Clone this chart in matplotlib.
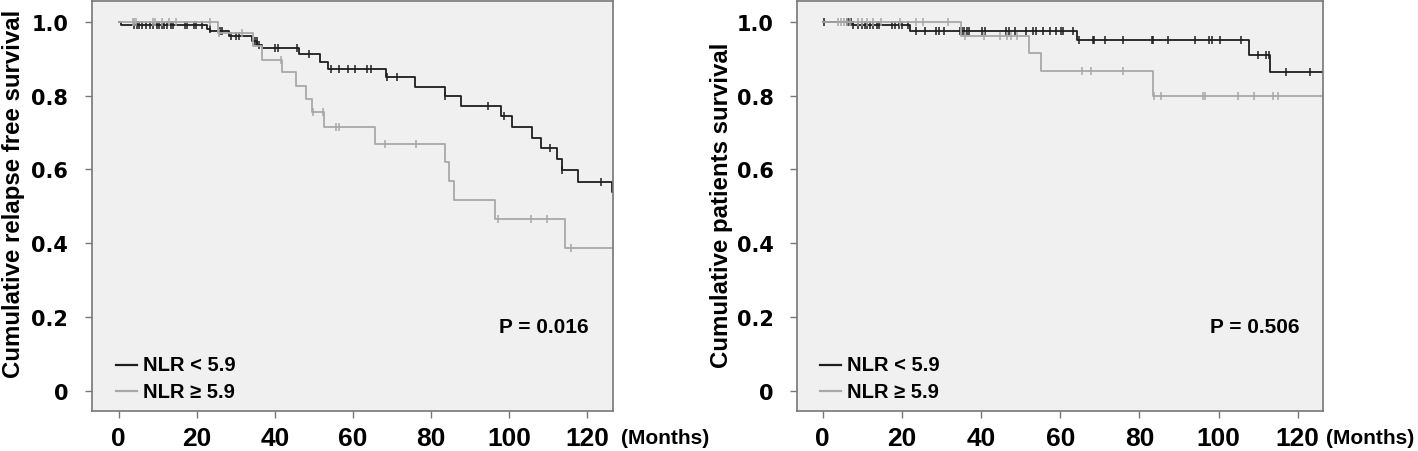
import numpy as np
import matplotlib.pyplot as plt

plt.rcParams['font.family'] = ['Liberation Sans', 'DejaVu Sans']
plt.rcParams['font.weight'] = 'bold'

# relapse free survival, NLR < 5.9
rfs_low_t = [0, 0.5, 22.5, 23.5, 28.2, 34.1, 35.5, 36.7, 46.3, 51.6, 53.7, 68.6, 75.9,
             83.5, 87.7, 98.0, 100.8, 106.0, 108.2, 112.3, 113.5, 117.7, 126.4]
rfs_low_s = [1.0, 0.992, 0.981, 0.975, 0.962, 0.947, 0.938, 0.929, 0.912, 0.891, 0.872,
             0.850, 0.822, 0.798, 0.772, 0.745, 0.716, 0.686, 0.658, 0.629, 0.598, 0.567, 0.538]
rfs_low_c = [3.9, 4.6, 5.3, 6.1, 7.0, 7.9, 8.7, 9.7, 10.4, 11.1, 11.7, 12.5, 13.4, 14.0,
             17.1, 17.6, 19.2, 19.9, 21.4, 23.3, 26.0, 26.5, 28.9, 30.1, 30.7, 35.0, 35.4,
             36.0, 40.1, 40.8, 45.6, 48.8, 54.3, 56.5, 58.8, 60.5, 63.5, 64.6, 68.8, 71.4,
             83.5, 94.5, 98.8, 110.5, 113.5, 123.5]

# relapse free survival, NLR >= 5.9
rfs_high_t = [0, 25.4, 34.5, 36.7, 41.8, 45.4, 48.0, 49.6, 52.6, 65.7, 83.7, 84.6, 86.0, 96.5, 114.3]
rfs_high_s = [1.0, 0.969, 0.934, 0.897, 0.863, 0.826, 0.791, 0.755, 0.714, 0.670, 0.620,
              0.568, 0.516, 0.465, 0.388]
rfs_high_c = [3.6, 4.0, 4.4, 8.8, 9.4, 11.2, 12.8, 14.6, 23.5, 25.8, 31.6, 41.5, 49.9, 52.3,
              55.7, 56.5, 68.1, 76.2, 97.1, 105.6, 109.6, 115.8]

# patients survival, NLR < 5.9
os_low_t = [0, 7.7, 22.0, 64.2, 107.7, 113.1]
os_low_s = [1.0, 0.992, 0.975, 0.950, 0.911, 0.865]
os_low_c = [0.3, 6.0, 6.6, 7.1, 7.7, 9.0, 9.8, 10.6, 11.2, 11.9, 12.7, 13.6, 14.2, 17.4, 18.2,
            19.3, 19.9, 21.6, 23.5, 25.8, 28.5, 29.4, 30.6, 34.6, 35.2, 35.8, 36.4, 36.9,
            40.3, 40.9, 46.4, 47.0, 48.5, 51.4, 53.1, 53.9, 55.6, 57.3, 59.0, 60.1, 60.6,
            63.3, 64.7, 68.2, 68.6, 71.2, 75.8, 83.2, 83.5, 87.3, 94.1, 97.5, 98.3, 100.3,
            105.6, 110.1, 111.9, 112.7, 117.0, 123.0]

# patients survival, NLR >= 5.9
os_high_t = [0, 35.0, 52.2, 55.2, 83.5]
os_high_s = [1.0, 0.961, 0.915, 0.866, 0.799]
os_high_c = [3.8, 4.5, 5.3, 6.0, 6.8, 8.9, 10.0, 11.1, 12.6, 14.8, 19.5, 23.5, 25.3, 31.6,
             36.0, 40.8, 44.7, 46.5, 47.6, 49.0, 65.5, 67.8, 75.9, 83.7, 85.4, 96.1, 96.6,
             105.0, 109.0, 113.7, 115.1]

labels = ['NLR < 5.9', 'NLR \u2265 5.9']
p_values = ['P = 0.016', 'P = 0.506']
ylabels = ['Cumulative relapse free survival', 'Cumulative patients survival']
colors = ['#1e1e1e', '#a8a8a8']
end_time = 135


def km(ax, t, s, c, color):
    t = list(t) + [end_time]
    s = list(s) + [s[-1]]
    ax.step(t, s, where='post', color=color, lw=1.3)
    idx = np.searchsorted(t, c, side='right') - 1
    ax.plot(c, np.array(s)[idx], ls='none', marker='|', ms=6, mew=1.1, color=color)


fig = plt.figure(figsize=(14.18, 4.52), dpi=100)
ax1 = fig.add_axes([0.0647, 0.0885, 0.3678, 0.9071])
ax2 = fig.add_axes([0.5621, 0.0885, 0.3709, 0.9071])

panels = [(ax1, [(rfs_low_t, rfs_low_s, rfs_low_c), (rfs_high_t, rfs_high_s, rfs_high_c)],
           -6.9, 126.7, (-0.128, 0.533), 128.7),
          (ax2, [(os_low_t, os_low_s, os_low_c), (os_high_t, os_high_s, os_high_c)],
           -6.5, 126.4, (-0.121, 0.505), 127.1)]

for i, (ax, series, x0, x1, ylab_xy, months_x) in enumerate(panels):
    ax.set_facecolor('#f0f0f0')
    for (t, s, c), col in zip(series, colors):
        km(ax, t, s, c, col)
    ax.set_xlim(x0, x1)
    ax.set_ylim(-0.054, 1.056)
    ax.set_xticks(range(0, 121, 20))
    ax.set_yticks([0, 0.2, 0.4, 0.6, 0.8, 1.0])
    ax.set_yticklabels(['0', '0.2', '0.4', '0.6', '0.8', '1.0'])
    for sp in ax.spines.values():
        sp.set_color('#777777')
        sp.set_linewidth(1.2)
    ax.tick_params(axis='both', direction='out', length=5, width=1, color='#777777')
    ax.tick_params(axis='y', pad=12)
    ax.tick_params(axis='x', pad=6, labelsize=19)
    for lab in ax.get_yticklabels():
        lab.set_family('DejaVu Sans')
        lab.set_fontsize(15)
        lab.set_fontweight('bold')
    ax.set_ylabel(ylabels[i], fontsize=17.3, fontweight='bold')
    ax.yaxis.set_label_coords(*ylab_xy)
    ax.text(120.5, 0.175, p_values[i], ha='right', va='center', fontsize=15, fontweight='bold')
    ax.text(months_x, -0.065, '(Months)', transform=ax.get_xaxis_transform(),
            ha='left', va='center', fontsize=15, fontweight='bold')
    # legend drawn by hand
    for j, (lab, col) in enumerate(zip(labels, colors)):
        yy = 0.071 - j * 0.071
        ax.plot([-0.7, 4.6], [yy, yy], color=col, lw=1.6)
        ax.text(6.2, yy, lab, ha='left', va='center', fontsize=14.5, fontweight='bold')

plt.savefig('out.png', dpi=100)
